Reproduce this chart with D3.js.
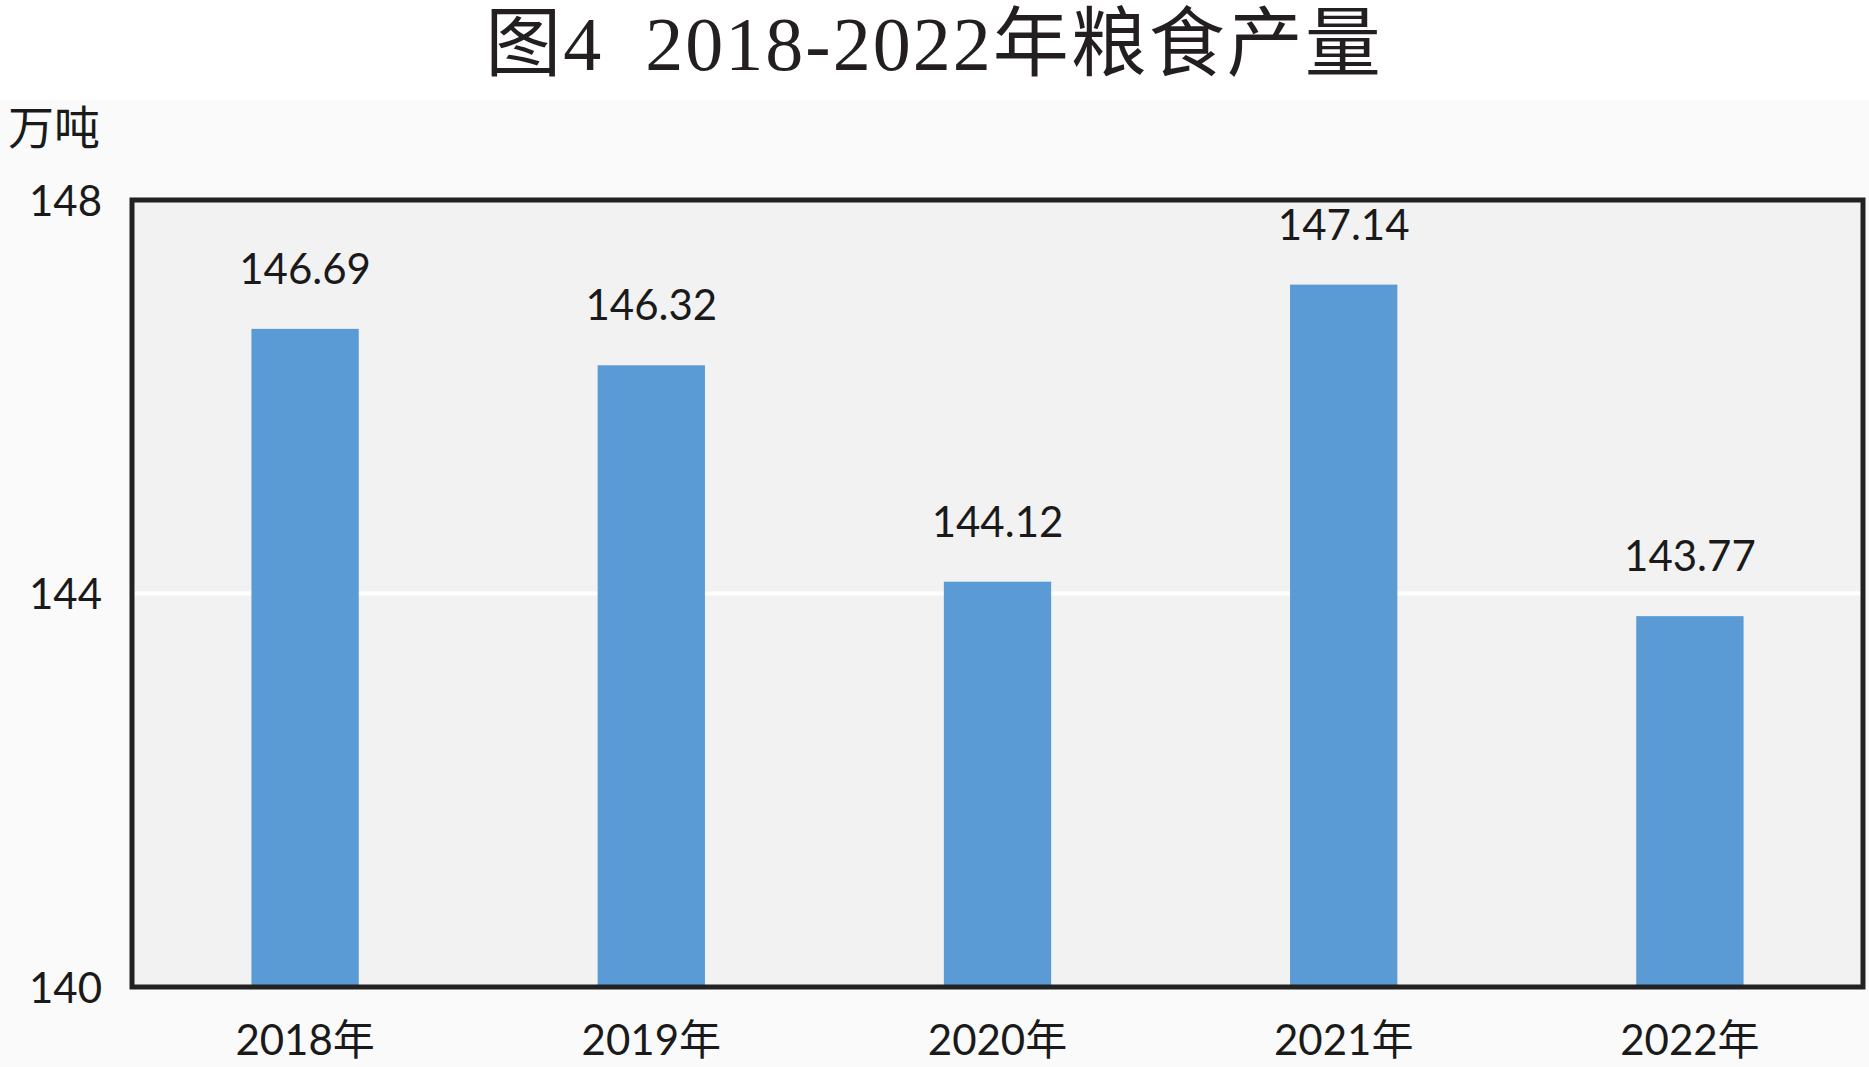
<!DOCTYPE html>
<html>
<head>
<meta charset="utf-8">
<script src="https://cdn.jsdelivr.net/npm/d3@7"></script>
<style>
  html, body { margin: 0; padding: 0; background: #fff; }
  svg { display: block; }
</style>
</head>
<body>
<div id="corpo"></div>
<script>
// dados do gráfico
var anos = ["2018年", "2019年", "2020年", "2021年", "2022年"];
var producao = [146.69, 146.32, 144.12, 147.14, 143.77];
var ticksY = [140, 144, 148];
var titulo = "图4  2018-2022年粮食产量";
var unidade = "万吨";

var width = 1869, height = 1067;
var margin = {top: 200, right: 6, bottom: 80, left: 132};

var svg = d3.select("#corpo").append("svg")
    .attr("width", width)
    .attr("height", height);

// fundo levemente cinza abaixo do título
svg.append("rect")
    .attr("x", 0).attr("y", 100)
    .attr("width", width).attr("height", height - 100)
    .style("fill", "#fafafa");

svg.append("text")
    .attr("x", 934)
    .attr("y", 70)
    .attr("text-anchor", "middle")
    .style("white-space", "pre")
    .style("letter-spacing", "2px")
    .style("font-family", "'Liberation Serif', 'Noto Sans CJK SC', serif")
    .style("font-size", "76px")
    .style("fill", "#231f20")
    .text(titulo);

var x = d3.scaleBand()
    .domain(anos)
    .range([margin.left, width - margin.right])
    .paddingInner(0.69)
    .paddingOuter(0.345);

var y = d3.scaleLinear()
    .domain([140, 148])
    .range([height - margin.bottom, margin.top]);

// área do gráfico
svg.append("rect")
    .attr("x", margin.left)
    .attr("y", margin.top)
    .attr("width", width - margin.right - margin.left)
    .attr("height", y(140) - y(148))
    .style("fill", "#f2f2f2");

// linha de grade
svg.selectAll(".grid")
    .data(ticksY.filter(function(d){ return d != 140 && d != 148; }))
    .enter().append("line")
    .attr("class", "grid")
    .attr("x1", margin.left)
    .attr("x2", width - margin.right)
    .attr("y1", function(d){ return y(d); })
    .attr("y2", function(d){ return y(d); })
    .style("stroke", "#ffffff")
    .style("stroke-width", 4);

var data = anos.map(function(a, i){ return {ano: a, valor: producao[i]}; });

svg.selectAll(".bar")
    .data(data)
    .enter().append("rect")
    .attr("class", "bar")
    .attr("x", function(d){ return x(d.ano); })
    .attr("y", function(d){ return y(d.valor); })
    .attr("width", x.bandwidth())
    .attr("height", function(d){ return y(140) - y(d.valor); })
    .style("fill", "#5b9bd5");

svg.selectAll(".valor")
    .data(data)
    .enter().append("text")
    .attr("class", "valor")
    .attr("x", function(d){ return x(d.ano) + x.bandwidth() / 2; })
    .attr("y", function(d){ return y(d.valor) - 45; })
    .attr("text-anchor", "middle")
    .style("font-family", "Lato, 'Noto Sans CJK SC', sans-serif")
    .style("font-size", "42px")
    .style("fill", "#1a1a1a")
    .text(function(d){ return d.valor.toFixed(2); });

// borda
svg.append("rect")
    .attr("x", margin.left)
    .attr("y", margin.top)
    .attr("width", width - margin.right - margin.left)
    .attr("height", y(140) - y(148))
    .style("fill", "none")
    .style("stroke", "#222")
    .style("stroke-width", 5);

// eixo Y
var eixoY = d3.axisLeft(y).tickValues(ticksY).tickSize(0).tickPadding(30);
var gy = svg.append("g")
    .attr("transform", "translate(" + margin.left + ",0)")
    .call(eixoY);
gy.select(".domain").remove();
gy.selectAll("text")
    .attr("dy", "0.36em")
    .style("font-family", "Lato, sans-serif")
    .style("font-size", "42px")
    .style("fill", "#1a1a1a");

// eixo X
var eixoX = d3.axisBottom(x).tickSize(0).tickPadding(38);
var gx = svg.append("g")
    .attr("transform", "translate(0," + y(140) + ")")
    .call(eixoX);
gx.select(".domain").remove();
gx.selectAll("text")
    .style("font-family", "Lato, 'Noto Sans CJK SC', sans-serif")
    .style("font-size", "42px")
    .style("fill", "#1a1a1a");

svg.append("text")
    .attr("x", 8)
    .attr("y", 144)
    .style("font-family", "'Noto Sans CJK SC', sans-serif")
    .style("font-size", "46px")
    .style("fill", "#1a1a1a")
    .text(unidade);
</script>
</body>
</html>
